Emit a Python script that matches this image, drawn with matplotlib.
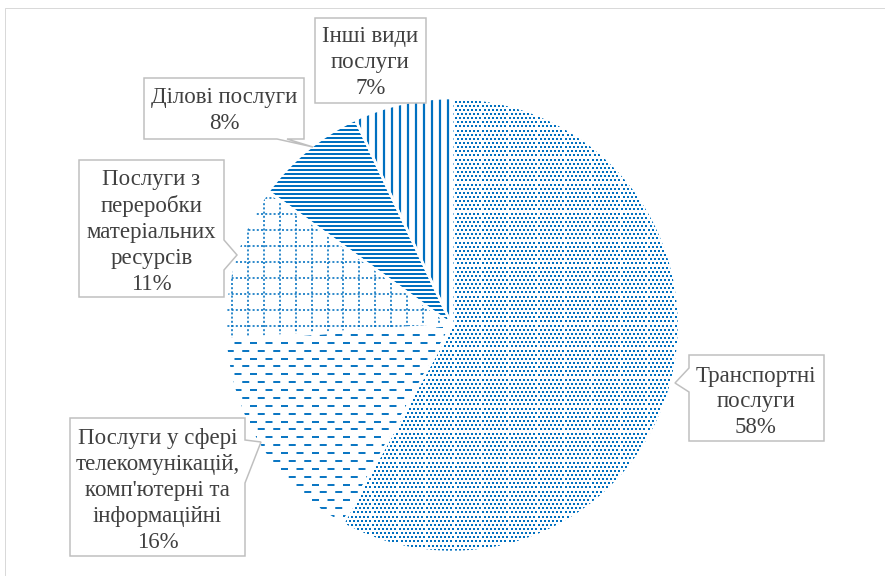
import numpy as np
import matplotlib
matplotlib.use('Agg')
import matplotlib.pyplot as plt
from matplotlib.patches import Polygon, Rectangle
from matplotlib.lines import Line2D
from matplotlib.collections import LineCollection

plt.rcParams['lines.scale_dashes'] = False

# ---- data ----
categories = ['Транспортні\nпослуги',
              "Послуги у сфері\nтелекомунікацій,\nкомп'ютерні та\nінформаційні",
              'Послуги з\nпереробки\nматеріальних\nресурсів',
              'Ділові послуги',
              'Інші види\nпослуги']
values = [58, 16, 11, 8, 7]
pct_labels = ['58%', '16%', '11%', '8%', '7%']

BLUE = '#0070C0'
TXT = '#404040'
BOX_EDGE = '#BFBFBF'
PX = 0.72  # points per pixel at dpi 100

W, H = 885, 576
fig = plt.figure(figsize=(W / 100, H / 100), dpi=100)
ax = fig.add_axes([0, 0, 1, 1])

CX, CY, R = 452, H - 325, 227
wedges, _ = ax.pie(values, startangle=90, counterclock=False, radius=R,
                   center=(CX, CY), colors=['none'] * len(values),
                   wedgeprops=dict(edgecolor='white', linewidth=2.6 * PX))
for w in wedges:
    w.set_zorder(3)
ax.set_xlim(0, W)
ax.set_ylim(0, H)
ax.set_aspect('equal')
ax.axis('off')

x0, x1 = CX - R - 6, CX + R + 6
y0, y1 = CY - R - 6, CY + R + 6

# 0: transport - dotted fill
step = 4.15
Xs, Ys = [], []
for i, yy in enumerate(np.arange(y0, y1, step)):
    xs = np.arange(x0 + (step / 2 if i % 2 else 0), x1, step)
    Xs.append(xs)
    Ys.append(np.full_like(xs, yy))
sc = ax.scatter(np.concatenate(Xs), np.concatenate(Ys), s=(2.2 * PX) ** 2,
                marker='s', color=BLUE, linewidths=0, zorder=1)
sc.set_clip_path(wedges[0])

# 1: telecom - dashed horizontal rows
for i, yy in enumerate(np.arange(H - 335 + 7.87 * 3, y0, -7.87)):
    ln = Line2D([x0, x1], [yy, yy], color=BLUE, lw=1.9 * PX, zorder=1,
                linestyle=(7.75 * PX if i % 2 else 0, (7 * PX, 8.5 * PX)))
    ax.add_line(ln)
    ln.set_clip_path(wedges[1])

# 2: material - dotted grid
for xx in np.arange(248 - 15.9 * 12, x1, 15.9):
    ln = Line2D([xx, xx], [y0, y1], color=BLUE, lw=1.6 * PX,
                linestyle=(0, (2 * PX, 2.2 * PX)), zorder=1)
    ax.add_line(ln)
    ln.set_clip_path(wedges[2])
for yy in np.arange(H - 198 + 16 * 8, y0, -16):
    ln = Line2D([x0, x1], [yy, yy], color=BLUE, lw=1.6 * PX,
                linestyle=(0, (2 * PX, 2.2 * PX)), zorder=1)
    ax.add_line(ln)
    ln.set_clip_path(wedges[2])

# 3: business - dense horizontal lines
segs = [[(x0, yy), (x1, yy)] for yy in np.arange(y0, y1, 4.0)]
lc = LineCollection(segs, colors=BLUE, linewidths=2.0 * PX, zorder=1)
ax.add_collection(lc)
lc.set_clip_path(wedges[3])

# 4: other - vertical lines
segs = [[(xx, y0), (xx, y1)] for xx in np.arange(448 - 8 * 40, x1, 8.0)]
lc = LineCollection(segs, colors=BLUE, linewidths=2.2 * PX, zorder=1)
ax.add_collection(lc)
lc.set_clip_path(wedges[4])

# ---- callout label boxes (pixel coords, top-left origin) ----
callouts = [
    [(689, 355), (824, 355), (824, 441), (689, 441), (689, 392), (675, 383), (689, 368)],
    [(70, 418), (245, 418), (245, 440), (261, 442), (245, 483), (245, 556), (70, 556)],
    [(79, 160), (224, 160), (224, 240), (237, 255), (224, 270), (224, 297), (79, 297)],
    [(144, 78), (304, 78), (304, 139), (287, 139), (313, 147), (277, 139), (144, 139)],
    [(315, 18), (426, 18), (426, 103), (315, 103)],
]
centers = [(756, 402), (157.5, 490.5), (151.5, 232), (224, 110.5), (370.5, 62.5)]

for pts, (tx, ty), cat, pct in zip(callouts, centers, categories, pct_labels):
    poly = Polygon([(x, H - y) for x, y in pts], closed=True, facecolor='white',
                   edgecolor=BOX_EDGE, lw=1.5 * PX, zorder=5)
    ax.add_patch(poly)
    ax.text(tx, H - ty, cat + '\n' + pct, ha='center', va='center',
            fontsize=16.5, color=TXT, family=['Liberation Serif', 'DejaVu Serif'],
            linespacing=1.30, zorder=6)

# outer chart frame
ax.add_patch(Rectangle((4.5, -10), W + 20, H - 7.5 + 10, facecolor='none',
                       edgecolor='#D9D9D9', lw=1.0 * PX, zorder=0))

fig.savefig('out.png', dpi=100)
